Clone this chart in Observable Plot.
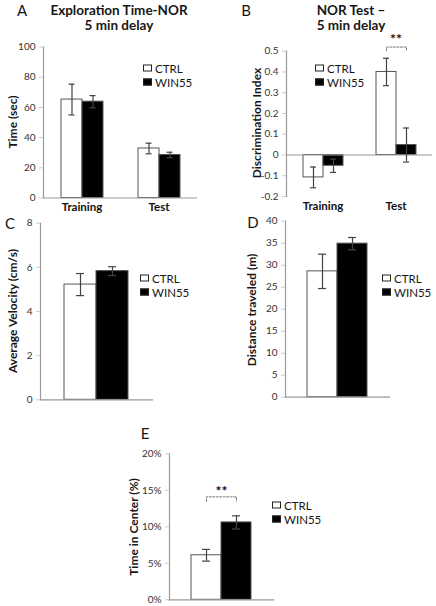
<!DOCTYPE html>
<html><head><meta charset="utf-8">
<script src="https://cdn.jsdelivr.net/npm/d3@7"></script>
<script src="https://cdn.jsdelivr.net/npm/@observablehq/plot@0.6"></script>
<style>
body{margin:0;background:#fff;}
#root{position:relative;width:436px;height:606px;overflow:hidden;font-family:Lato,"Open Sans",sans-serif;color:#161616;background:#fff;}
.abs{position:absolute;}
.title{font-weight:bold;font-size:13.5px;line-height:15px;text-align:center;white-space:nowrap;transform:translate(-50%,0);}
.letter{font-size:15px;transform:translate(-50%,-50%);}
.ylab{font-weight:bold;font-size:12px;white-space:nowrap;transform:translate(-50%,-50%) rotate(-90deg);}
.leg{font-size:11.5px;display:flex;align-items:center;transform:translateY(-50%);white-space:nowrap;}
.sw{width:9px;height:7px;border:1px solid #222;margin-right:3px;box-sizing:border-box}
.plot{position:absolute;}
</style></head>
<body><div id="root"></div>
<script>
// ---- data ----
const groups = ["CTRL", "WIN55"];
const phases = ["Training", "Test"];
// Panel A: Exploration time (sec)
const aCtrl = [65.2, 32.8];
const aCtrlErr = [10.2, 3.5];
const aWin = [63.8, 28.5];
const aWinErr = [4.0, 1.8];
const aTicks = [0, 20, 40, 60, 80, 100];
// Panel B: Discrimination index
const bCtrl = [-0.108, 0.400];
const bCtrlErr = [0.05, 0.066];
const bWin = [-0.052, 0.048];
const bWinErr = [0.032, 0.082];
const bTicks = [-0.2, -0.1, 0, 0.1, 0.2, 0.3, 0.4, 0.5];
// Panel C: Average velocity (cm/s)
const cVals = [5.22, 5.83];
const cErr = [0.5, 0.2];
const cTicks = [0, 2, 4, 6, 8];
// Panel D: Distance traveled (m)
const dVals = [28.6, 34.9];
const dErr = [3.9, 1.4];
const dTicks = [0, 5, 10, 15, 20, 25, 30, 35, 40];
// Panel E: Time in center (fraction)
const eVals = [0.061, 0.106];
const eErr = [0.008, 0.009];
const eTicks = [0, 0.05, 0.10, 0.15, 0.20];

const root = document.getElementById("root");
const FONT = "Lato, 'Open Sans', sans-serif";
const AX = "#9a9a9a";

function add(html, cls, left, top) {
  const d = document.createElement("div");
  d.className = "abs " + cls;
  d.style.left = left + "px"; d.style.top = top + "px";
  d.innerHTML = html;
  root.appendChild(d);
}
function legend(left, top) {
  add('<div class="sw" style="background:#fff"></div>CTRL', "leg", left, top);
  add('<div class="sw" style="background:#000"></div>WIN55', "leg", left, top + 14);
}
function place(svg, left, top) {
  svg.classList.add("plot");
  svg.style.left = left + "px"; svg.style.top = top + "px";
  root.appendChild(svg);
}

const fmtPlain = d => (Math.abs(d) < 1e-9 ? "0" : String(+d.toFixed(2)));

function grouped(ctrl, ctrlErr, win, winErr) {
  const rows = [];
  phases.forEach((p, i) => {
    rows.push({phase: p, group: "CTRL", v: ctrl[i], lo: ctrl[i] - ctrlErr[i], hi: ctrl[i] + ctrlErr[i]});
    rows.push({phase: p, group: "WIN55", v: win[i], lo: win[i] - winErr[i], hi: win[i] + winErr[i]});
  });
  return rows;
}
function single(vals, errs) {
  return groups.map((g, i) => ({group: g, v: vals[i], lo: vals[i] - errs[i], hi: vals[i] + errs[i]}));
}

const colorScale = {domain: groups, range: ["#ffffff", "#000000"]};

function facetPanel({rows, ticks, domain, width, height, margins, pad, cap, extra = []}) {
  return Plot.plot({
    width, height, ...margins,
    style: {fontFamily: FONT, fontSize: "10px", background: "transparent", overflow: "visible"},
    fx: {domain: phases, padding: 0, label: null},
    x: {domain: groups, paddingInner: 0, paddingOuter: pad, axis: null},
    y: {domain},
    color: colorScale,
    marks: [
      Plot.barY(rows, {fx: "phase", x: "group", y: "v", fill: "group", stroke: "#555", strokeWidth: 1}),
      Plot.ruleY([0], {stroke: AX, strokeWidth: 1.2}),
      Plot.frame({anchor: "left", facet: "super", stroke: AX, strokeWidth: 1.2}),
      Plot.ruleX(rows, {fx: "phase", x: "group", y1: "lo", y2: "hi", stroke: "#444", strokeWidth: 1.2}),
      Plot.tickY(rows, {fx: "phase", x: "group", y: "hi", stroke: "#444", strokeWidth: 1.2, insetLeft: cap, insetRight: cap}),
      Plot.tickY(rows, {fx: "phase", x: "group", y: "lo", stroke: "#444", strokeWidth: 1.2, insetLeft: cap, insetRight: cap}),
      Plot.axisY({ticks, tickFormat: fmtPlain, tickSize: 4, tickPadding: 4, stroke: "#ccc", fill: "#333", label: null}),
      Plot.axisFx({anchor: "bottom", tickSize: 0, tickPadding: 5, fontWeight: "bold", fontSize: 11.5, fill: "#111", label: null}),
      ...extra
    ]
  });
}

function singlePanel({rows, ticks, domain, fmt, width, height, margins, pad, cap, extra = []}) {
  return Plot.plot({
    width, height, ...margins,
    style: {fontFamily: FONT, fontSize: "10px", background: "transparent", overflow: "visible"},
    x: {domain: groups, paddingInner: 0, paddingOuter: pad, axis: null},
    y: {domain},
    color: colorScale,
    marks: [
      Plot.barY(rows, {x: "group", y: "v", fill: "group", stroke: "#555", strokeWidth: 1}),
      Plot.frame({anchor: "bottom", stroke: AX, strokeWidth: 1.2}),
      Plot.frame({anchor: "left", stroke: AX, strokeWidth: 1.2}),
      Plot.ruleX(rows, {x: "group", y1: "lo", y2: "hi", stroke: "#444", strokeWidth: 1.2}),
      Plot.tickY(rows, {x: "group", y: "hi", stroke: "#444", strokeWidth: 1.2, insetLeft: cap, insetRight: cap}),
      Plot.tickY(rows, {x: "group", y: "lo", stroke: "#444", strokeWidth: 1.2, insetLeft: cap, insetRight: cap}),
      Plot.axisY({ticks, tickFormat: fmt || fmtPlain, tickSize: 4, tickPadding: 4, stroke: "#ccc", fill: "#333", label: null}),
      ...extra
    ]
  });
}

function bracket(level, drop, facet) {
  return [
    {group: "CTRL", y: level - drop}, {group: "CTRL", y: level},
    {group: "WIN55", y: level}, {group: "WIN55", y: level - drop}
  ].map(d => facet ? {...d, phase: facet} : d);
}

// ---- Panel A ----
place(facetPanel({
  rows: grouped(aCtrl, aCtrlErr, aWin, aWinErr), ticks: aTicks, domain: [0, 100],
  width: 218, height: 190,
  margins: {marginLeft: 42, marginRight: 21, marginTop: 16.5, marginBottom: 22.5},
  pad: 0.76, cap: 7.5
}), 0, 30);

// ---- Panel B ----
const brB = bracket(0.52, 0.017, "Test");
place(facetPanel({
  rows: grouped(bCtrl, bCtrlErr, bWin, bWinErr), ticks: bTicks, domain: [-0.2, 0.5],
  width: 218, height: 190,
  margins: {marginLeft: 68, marginRight: 4, marginTop: 20.7, marginBottom: 24},
  pad: 0.74, cap: 7,
  extra: [
    Plot.line(brB, {fx: "phase", x: "group", y: "y", stroke: "#777", strokeWidth: 1, strokeDasharray: "2,1.5"}),
    Plot.text(["**"], {fx: () => "Test", x: () => "WIN55", y: () => 0.555, dx: -10.5, text: d => d, fontSize: 14, fontWeight: "bold", fill: "#111"})
  ]
}), 218, 30);

// ---- Panel C ----
place(singlePanel({
  rows: single(cVals, cErr), ticks: cTicks, domain: [0, 8],
  width: 218, height: 200,
  margins: {marginLeft: 40, marginRight: 66, marginTop: 12.7, marginBottom: 10.7},
  pad: 0.75, cap: 12
}), 0, 210);

// ---- Panel D ----
place(singlePanel({
  rows: single(dVals, dErr), ticks: dTicks, domain: [0, 40],
  width: 218, height: 200,
  margins: {marginLeft: 67, marginRight: 47, marginTop: 10.7, marginBottom: 13.3},
  pad: 0.73, cap: 11
}), 218, 210);

// ---- Panel E ----
const brE = bracket(0.141, 0.006, null);
place(singlePanel({
  rows: single(eVals, eErr), ticks: eTicks, domain: [0, 0.20], fmt: d3.format(".0%"),
  width: 240, height: 166,
  margins: {marginLeft: 69, marginRight: 67, marginTop: 13.3, marginBottom: 6.7},
  pad: 0.73, cap: 11,
  extra: [
    Plot.line(brE, {x: "group", y: "y", stroke: "#777", strokeWidth: 1, strokeDasharray: "2,1.5"}),
    Plot.text(["**"], {x: () => "WIN55", y: () => 0.148, dx: -15, text: d => d, fontSize: 14, fontWeight: "bold", fill: "#111"})
  ]
}), 100, 440);

// ---- titles, letters, axis labels, legends ----
add("Exploration Time-NOR<br>5 min delay", "title", 119, 3);
add("NOR Test –<br>5 min delay", "title", 351, 3);
add("A", "letter", 22, 10);
add("B", "letter", 246, 10);
add("C", "letter", 10, 223);
add("D", "letter", 253, 222);
add("E", "letter", 145, 433);
add("Time (sec)", "ylab", 12, 122);
add("Discrimination Index", "ylab", 256, 123);
add("Average Velocity (cm/s)", "ylab", 12, 311);
add("Distance traveled (m)", "ylab", 251, 310);
add("Time in Center (%)", "ylab", 133, 527);
legend(143, 68);
legend(315, 68);
legend(140, 278);
legend(382, 278);
legend(272, 505);
</script>
</body></html>
